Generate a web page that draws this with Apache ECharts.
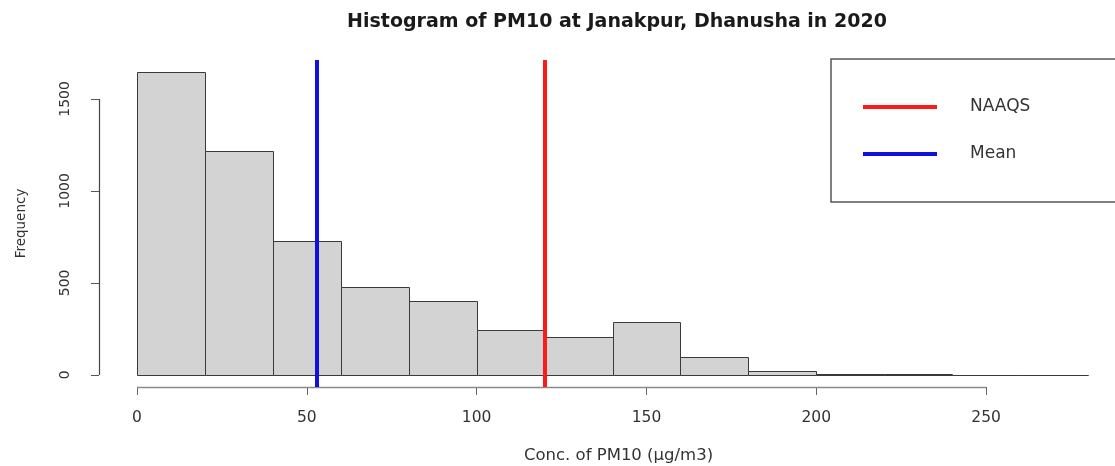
<!DOCTYPE html>
<html>
<head>
<meta charset="utf-8">
<script src="https://cdn.jsdelivr.net/npm/echarts@6/dist/echarts.min.js"></script>
<style>
  html, body { margin: 0; padding: 0; background: #ffffff; }
  #chart { width: 1115px; height: 466px; }
</style>
</head>
<body>
<div id="chart"></div>
<script>
// Histogram bins (µg/m3) and frequencies of hourly PM10
const binEdges = [0, 20, 40, 60, 80, 100, 120, 140, 160, 180, 200, 220, 240, 260, 280];
const counts = [1646, 1217, 728, 478, 402, 244, 208, 286, 96, 21, 5, 3, 0, 0];

// Axis tick values
const xTicks = [0, 50, 100, 150, 200, 250];
const yTicks = [0, 500, 1000, 1500];

// Reference lines
const naaqsLimit = 120;
const meanConc = 52.9;

// Plot limits: data range padded by 4% on each side
const xSpan = binEdges[binEdges.length - 1] - binEdges[0];
const xMin = binEdges[0] - 0.04 * xSpan;
const xMax = binEdges[binEdges.length - 1] + 0.04 * xSpan;
const yTop = Math.max(...counts);
const yMin = -0.04 * yTop;
const yMax = yTop * 1.04;

const FONT = 'DejaVu Sans';

const barData = counts.map((c, i) => [binEdges[i], binEdges[i + 1], c]);

const chart = echarts.init(document.getElementById('chart'), null, { renderer: 'canvas' });

chart.setOption({
  animation: false,
  backgroundColor: '#ffffff',
  textStyle: { fontFamily: FONT },
  title: {
    text: 'Histogram of PM10 at Janakpur, Dhanusha in 2020',
    left: 612,
    top: 8,
    textAlign: 'center',
    textStyle: { fontFamily: FONT, fontSize: 19, fontWeight: 'bold', color: '#1a1a1a' }
  },
  legend: {
    orient: 'vertical',
    left: 831,
    top: 59,
    padding: [38, 200, 38, 32],
    itemGap: 27,
    itemWidth: 74,
    itemHeight: 4,
    icon: 'rect',
    borderColor: '#555555',
    borderWidth: 1.5,
    borderRadius: 0,
    backgroundColor: '#ffffff',
    selectedMode: false,
    textStyle: {
      fontFamily: FONT,
      fontSize: 17,
      color: '#333333',
      lineHeight: 20,
      padding: [0, 0, 0, 28]
    },
    data: ['NAAQS', 'Mean']
  },
  grid: {
    left: 99,
    top: 60,
    width: 1027,
    height: 327,
    containLabel: false,
    outerBoundsMode: 'none'
  },
  xAxis: {
    type: 'value',
    min: xMin,
    max: xMax,
    splitLine: { show: false },
    axisLine: { show: false, onZero: false },
    axisTick: {
      show: true,
      customValues: xTicks,
      length: 8,
      lineStyle: { color: '#666666', width: 1 }
    },
    axisLabel: {
      customValues: xTicks,
      margin: 23,
      fontFamily: FONT,
      fontSize: 15.5,
      color: '#333333',
      formatter: function (v) { return String(v); }
    },
    name: 'Conc. of PM10 (µg/m3)',
    nameLocation: 'middle',
    nameGap: 60,
    nameTextStyle: {
      fontFamily: FONT,
      fontSize: 16.5,
      color: '#333333',
      padding: [0, 0, 0, 12]
    }
  },
  yAxis: {
    type: 'value',
    min: yMin,
    max: yMax,
    splitLine: { show: false },
    axisLine: { show: false, onZero: false },
    axisTick: {
      show: true,
      customValues: yTicks,
      length: 8,
      lineStyle: { color: '#555555', width: 1 }
    },
    axisLabel: {
      customValues: yTicks,
      rotate: 90,
      margin: 27,
      fontFamily: FONT,
      fontSize: 14,
      color: '#333333',
      formatter: function (v) { return String(v); }
    },
    name: 'Frequency',
    nameLocation: 'middle',
    nameRotate: 90,
    nameGap: 71,
    nameTextStyle: { fontFamily: FONT, fontSize: 13.5, color: '#333333' }
  },
  series: [
    {
      // histogram bars
      type: 'custom',
      name: 'PM10',
      silent: true,
      data: barData,
      encode: { x: [0, 1], y: 2 },
      renderItem: function (params, api) {
        const topLeft = api.coord([api.value(0), api.value(2)]);
        const bottomRight = api.coord([api.value(1), 0]);
        const x0 = Math.round(topLeft[0]) + 0.5;
        const x1 = Math.round(bottomRight[0]) + 0.5;
        const y0 = Math.round(topLeft[1]) + 0.5;
        const y1 = Math.round(bottomRight[1]) + 0.5;
        return {
          type: 'rect',
          shape: { x: x0, y: y0, width: x1 - x0, height: y1 - y0 },
          style: { fill: '#d3d3d3', stroke: '#3a3a3a', lineWidth: 1 }
        };
      }
    },
    {
      // axis lines spanning first to last tick
      type: 'custom',
      name: 'axes',
      silent: true,
      data: [[0, 0]],
      renderItem: function (params, api) {
        const xa = api.coord([xTicks[0], yMin]);
        const xb = api.coord([xTicks[xTicks.length - 1], yMin]);
        const ya = api.coord([xMin, yTicks[0]]);
        const yb = api.coord([xMin, yTicks[yTicks.length - 1]]);
        return {
          type: 'group',
          children: [
            {
              type: 'line',
              shape: { x1: xa[0], y1: Math.round(xa[1]) + 0.5, x2: xb[0], y2: Math.round(xb[1]) + 0.5 },
              style: { stroke: '#8a8a8a', lineWidth: 1.5 }
            },
            {
              type: 'line',
              shape: { x1: Math.round(ya[0]) + 0.5, y1: ya[1], x2: Math.round(yb[0]) + 0.5, y2: yb[1] },
              style: { stroke: '#444444', lineWidth: 1.2 }
            }
          ]
        };
      }
    },
    {
      type: 'line',
      name: 'NAAQS',
      color: '#ff1a1a',
      data: [],
      symbol: 'none',
      lineStyle: { color: '#ff1a1a', width: 4 },
      markLine: {
        silent: true,
        symbol: 'none',
        label: { show: false },
        lineStyle: { color: '#ff1a1a', width: 4, type: 'solid' },
        data: [{ xAxis: naaqsLimit }]
      }
    },
    {
      type: 'line',
      name: 'Mean',
      color: '#1010e0',
      data: [],
      symbol: 'none',
      lineStyle: { color: '#1010e0', width: 4 },
      markLine: {
        silent: true,
        symbol: 'none',
        label: { show: false },
        lineStyle: { color: '#1010e0', width: 4, type: 'solid' },
        data: [{ xAxis: meanConc }]
      }
    }
  ]
});
</script>
</body>
</html>
